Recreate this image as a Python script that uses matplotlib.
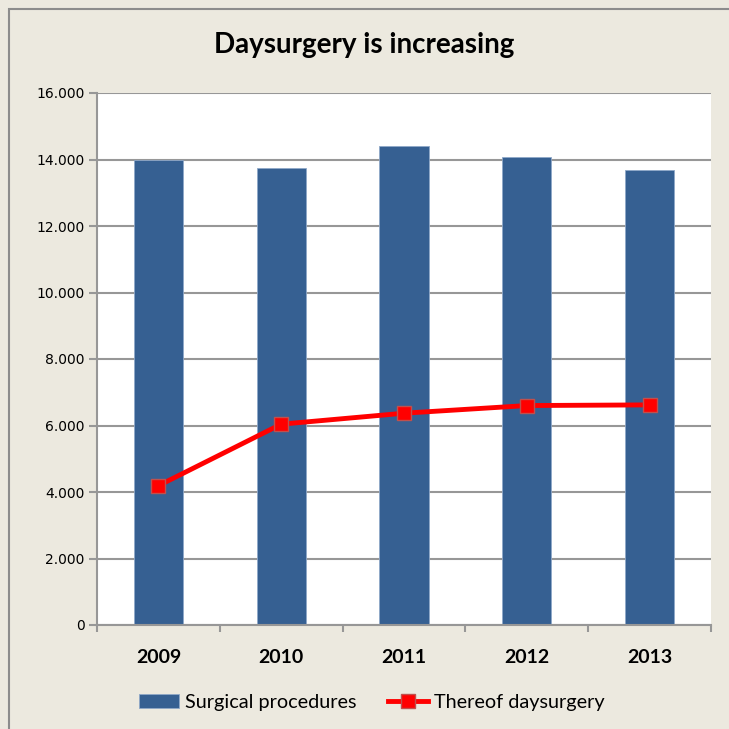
import matplotlib.pyplot as plt
import numpy as np
from matplotlib.patches import Rectangle
from matplotlib.ticker import FuncFormatter

years = ['2009', '2010', '2011', '2012', '2013']
surgical = [13980, 13740, 14410, 14070, 13680]
daysurgery = [4190, 6040, 6370, 6600, 6620]

bg = '#ECE9DF'
bar_col = '#366092'
grid_col = '#979797'

fig = plt.figure(figsize=(7.29, 7.29), dpi=100, facecolor=bg)
# outer frame of the chart (only top and left edges visible)
fig.patches.append(Rectangle((9 / 729, -0.1), 1.2, 1 - 9 / 729 + 0.1,
                             transform=fig.transFigure, fill=False,
                             edgecolor='#8c8c8c', linewidth=1.5))

# left, bottom, width, height
ax = fig.add_axes([97 / 729, 104 / 729, 614 / 729, 532 / 729])
ax.set_facecolor('white')

x = np.arange(len(years))
bars = ax.bar(x, surgical, width=0.4, color=bar_col, edgecolor='#8fa8c8',
              linewidth=0.6, label='Surgical procedures', zorder=2)
line, = ax.plot(x, daysurgery, color='red', linewidth=3.5, marker='s',
                markersize=10, markerfacecolor='red', markeredgecolor='#c0504d',
                markeredgewidth=1, label='Thereof daysurgery', zorder=3)

ax.set_xlim(-0.5, len(years) - 0.5)
ax.set_ylim(0, 16000)
ax.set_yticks(np.arange(0, 16001, 2000))
ax.yaxis.set_major_formatter(FuncFormatter(
    lambda v, p: '0' if v == 0 else f'{int(v):,}'.replace(',', '.')))
ax.grid(axis='y', color=grid_col, linewidth=1.5, zorder=1)
ax.set_axisbelow(True)

ax.set_xticks(x)
ax.set_xticklabels(years, fontweight='bold', fontsize=14, family='Lato')
ax.set_xticks(np.arange(-0.5, len(years)), minor=True)
ax.tick_params(axis='x', which='major', length=0, pad=17)
ax.tick_params(axis='x', which='minor', length=5, color=grid_col, width=1.5)
ax.tick_params(axis='y', length=6, color=grid_col, width=1.5,
               labelsize=10, pad=3)

for s in ['top', 'right']:
    ax.spines[s].set_visible(False)
for s in ['left', 'bottom']:
    ax.spines[s].set_color(grid_col)
    ax.spines[s].set_linewidth(1.5)

fig.text(0.5, 0.938, 'Daysurgery is increasing', ha='center', va='center',
         fontsize=20, fontweight='bold', family='Lato')

fig.legend([bars, line], ['Surgical procedures', 'Thereof daysurgery'],
           loc='center', bbox_to_anchor=(0.51, 0.036), ncol=2,
           frameon=False, prop={'family': 'Lato', 'size': 14.3},
           handlelength=2.0, handleheight=0.7, columnspacing=1.6,
           handletextpad=0.3)

fig.savefig('out.png', dpi=100, facecolor=bg)
